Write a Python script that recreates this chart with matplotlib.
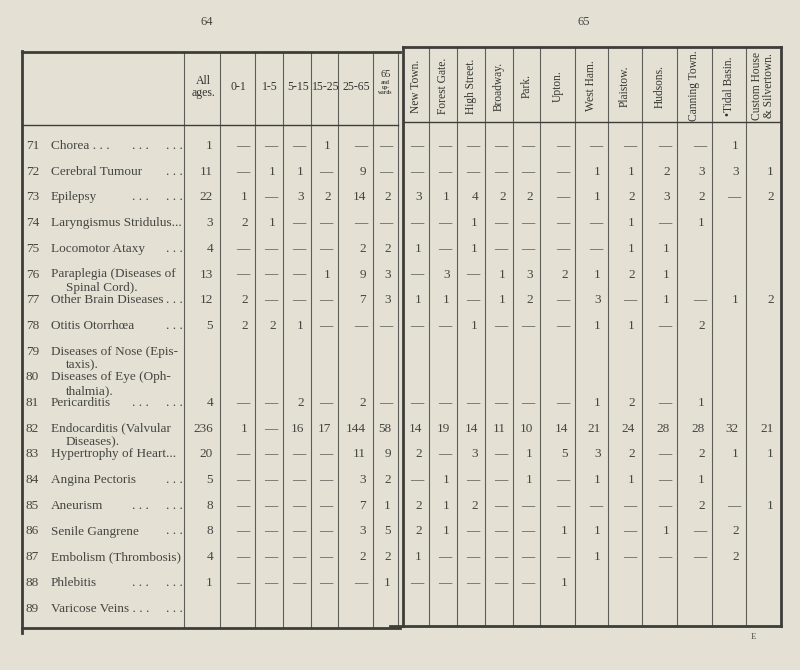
import matplotlib.pyplot as plt

plt.rcParams['font.family'] = ['Liberation Serif', 'DejaVu Serif']

# row labels (left page)
row_numbers = list(range(71, 90))
row_labels = [
    "Chorea . . .", "Cerebral Tumour", "Epilepsy", "Laryngismus Stridulus...",
    "Locomotor Ataxy", "Paraplegia (Diseases of\nSpinal Cord).",
    "Other Brain Diseases", "Otitis Otorrhœa",
    "Diseases of Nose (Epis-\ntaxis).", "Diseases of Eye (Oph-\nthalmia).",
    "Pericarditis", "Endocarditis (Valvular\nDiseases).",
    "Hypertrophy of Heart...", "Angina Pectoris", "Aneurism",
    "Senile Gangrene", "Embolism (Thrombosis)", "Phlebitis",
    "Varicose Veins . . .",
]
mid_leader = [1, 0, 1, 0, 0, 0, 0, 0, 0, 0, 1, 0, 0, 0, 1, 0, 0, 1, 0]
end_leader = [1, 1, 1, 0, 1, 0, 1, 1, 0, 0, 1, 0, 0, 1, 1, 1, 0, 1, 1]

age_headers = ["All\nages.", "0-1", "1-5", "5-15", "15-25", "25-65"]
ward_headers = ["New Town.", "Forest Gate.", "High Street.", "Broadway.",
                "Park.", "Upton.", "West Ham.", "Plaistow.", "Hudsons.",
                "Canning Town.", "•Tidal Basin.", "Custom House\n& Silvertown."]

# 0 = dash, None = blank cell
age_counts = [
    [1, 0, 0, 0, 1, 0, 0],
    [11, 0, 1, 1, 0, 9, 0],
    [22, 1, 0, 3, 2, 14, 2],
    [3, 2, 1, 0, 0, 0, 0],
    [4, 0, 0, 0, 0, 2, 2],
    [13, 0, 0, 0, 1, 9, 3],
    [12, 2, 0, 0, 0, 7, 3],
    [5, 2, 2, 1, 0, 0, 0],
    [None] * 7,
    [None] * 7,
    [4, 0, 0, 2, 0, 2, 0],
    [236, 1, 0, 16, 17, 144, 58],
    [20, 0, 0, 0, 0, 11, 9],
    [5, 0, 0, 0, 0, 3, 2],
    [8, 0, 0, 0, 0, 7, 1],
    [8, 0, 0, 0, 0, 3, 5],
    [4, 0, 0, 0, 0, 2, 2],
    [1, 0, 0, 0, 0, 0, 1],
    [None] * 7,
]
N = None
ward_counts = [
    [0, 0, 0, 0, 0, 0, 0, 0, 0, 0, 1, N],
    [0, 0, 0, 0, 0, 0, 1, 1, 2, 3, 3, 1],
    [3, 1, 4, 2, 2, 0, 1, 2, 3, 2, 0, 2],
    [0, 0, 1, 0, 0, 0, 0, 1, 0, 1, N, N],
    [1, 0, 1, 0, 0, 0, 0, 1, 1, N, N, N],
    [0, 3, 0, 1, 3, 2, 1, 2, 1, N, N, N],
    [1, 1, 0, 1, 2, 0, 3, 0, 1, 0, 1, 2],
    [0, 0, 1, 0, 0, 0, 1, 1, 0, 2, N, N],
    [N] * 12,
    [N] * 12,
    [0, 0, 0, 0, 0, 0, 1, 2, 0, 1, N, N],
    [14, 19, 14, 11, 10, 14, 21, 24, 28, 28, 32, 21],
    [2, 0, 3, 0, 1, 5, 3, 2, 0, 2, 1, 1],
    [0, 1, 0, 0, 1, 0, 1, 1, 0, 1, N, N],
    [2, 1, 2, 0, 0, 0, 0, 0, 0, 2, 0, 1],
    [2, 1, 0, 0, 0, 1, 1, 0, 1, 0, 2, N],
    [1, 0, 0, 0, 0, 0, 1, 0, 0, 0, 2, N],
    [0, 0, 0, 0, 0, 1, N, N, N, N, N, N],
    [N] * 12,
]

ink = '#3d3d3a'
txt = '#454542'
paper = '#e4e1d4'

fig = plt.figure(figsize=(8, 6.7), dpi=100, facecolor=paper)
ax = fig.add_axes([0, 0, 1, 1])
ax.set_xlim(0, 800)
ax.set_ylim(670, 0)
ax.axis('off')

# column edges
left_cols = [184, 220, 255, 283, 311, 338, 373, 398]
right_cols = [403, 429, 457, 485, 513, 540, 575, 608, 642, 677, 712, 746, 781]

# frames
ax.plot([22, 22], [51, 633], color=ink, lw=2)
ax.plot([22, 400], [52, 52], color=ink, lw=2)
ax.plot([22, 398], [125, 125], color=ink, lw=1)
ax.plot([22, 400], [628, 628], color=ink, lw=2)
for x in left_cols:
    ax.plot([x, x], [52, 628], color=ink, lw=0.8, alpha=0.8)

ax.plot([403, 403], [47, 626], color=ink, lw=2)
ax.plot([781, 781], [47, 626], color=ink, lw=2)
ax.plot([403, 781], [47, 47], color=ink, lw=2)
ax.plot([403, 781], [122, 122], color=ink, lw=1)
ax.plot([390, 781], [626, 626], color=ink, lw=2)
for x in right_cols[1:-1]:
    ax.plot([x, x], [47, 626], color=ink, lw=0.8, alpha=0.8)

# page numbers
ax.text(207, 22, "64", ha='center', va='center', fontsize=9, color=txt)
ax.text(584, 22, "65", ha='center', va='center', fontsize=9, color=txt)
ax.text(753, 637, "E", ha='center', va='center', fontsize=6, color=txt)

# left headers
for i, h in enumerate(age_headers):
    xc = (left_cols[i] + left_cols[i + 1]) / 2
    ax.text(xc + 1, 87, h, ha='center', va='center', fontsize=8.5,
            color='#333331', linespacing=1.05)
xc = (left_cols[6] + left_cols[7]) / 2
ax.text(xc, 74.5, "65", ha='center', va='center', fontsize=7.5,
        color='#333331')
for k, w in enumerate(["and", "up-", "wards"]):
    ax.text(xc, 83 + 4.5 * k, w, ha='center', va='center', fontsize=4,
            color=txt, fontweight='bold')

# right headers (rotated)
for i, h in enumerate(ward_headers):
    xc = (right_cols[i] + right_cols[i + 1]) / 2
    ax.text(xc, 86, h, ha='center', va='center', rotation=90, fontsize=8.3,
            color='#333331', linespacing=1.0)

# rows
fs = 9.5
y0, dy = 146, 25.7
for r in range(len(row_numbers)):
    y = y0 + dy * r
    ax.text(26, y, str(row_numbers[r]), ha='left', va='center',
            fontsize=fs, color=txt)
    lines = row_labels[r].split("\n")
    ax.text(51, y, lines[0], ha='left', va='center', fontsize=fs, color=txt)
    if len(lines) > 1:
        ax.text(66, y + 13.5, lines[1], ha='left', va='center',
                fontsize=fs, color=txt)
    if mid_leader[r]:
        ax.text(140, y, ". . .", ha='center', va='center', fontsize=fs,
                color=txt)
    if end_leader[r]:
        ax.text(183, y, ". . .", ha='right', va='center', fontsize=fs,
                color=txt)

    cells = [(left_cols[c + 1], v) for c, v in enumerate(age_counts[r])]
    cells += [(right_cols[c + 1], v) for c, v in enumerate(ward_counts[r])]
    for xr, v in cells:
        if v is None:
            continue
        if v == 0:
            ax.text(xr - 12, y, "—", ha='center', va='center',
                    fontsize=fs, color=txt)
        else:
            ax.text(xr - 7, y, str(v), ha='right', va='center',
                    fontsize=fs, color=txt)

fig.savefig('out.png', dpi=100, facecolor=paper)
